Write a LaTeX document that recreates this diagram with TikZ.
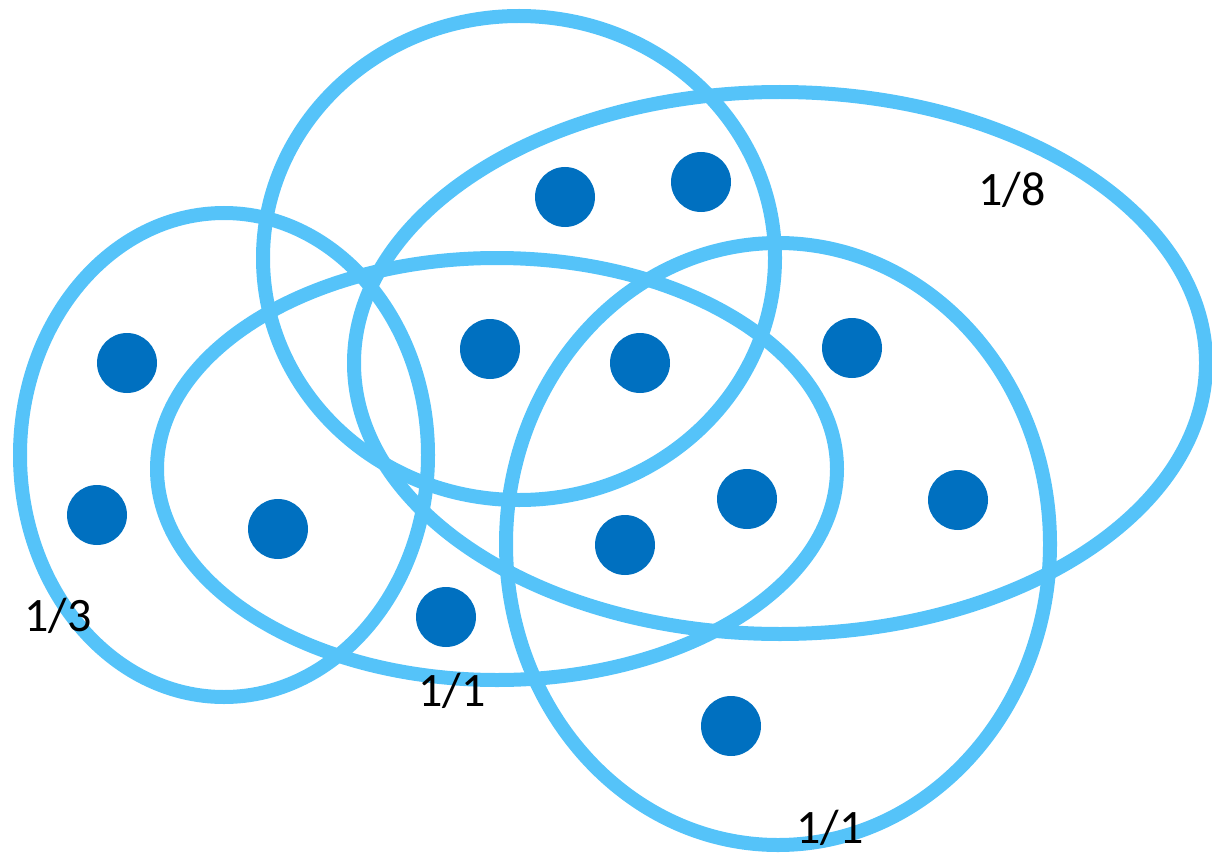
\documentclass[tikz,border=0pt]{standalone}
\usepackage{fontspec}
\setmainfont{Carlito}
\definecolor{ringblue}{HTML}{55C3F9}
\definecolor{dotblue}{HTML}{0070C0}
\begin{document}
\begin{tikzpicture}[x=1pt,y=-1pt,
  ring/.style={draw=ringblue,line width=14pt},
  dot/.style={circle,fill=dotblue,minimum size=60pt,inner sep=0pt},
  lbl/.style={anchor=base,font=\fontsize{48}{54}\selectfont,inner sep=0pt}]
\useasboundingbox (0,0) rectangle (1212,853);
% hyperedges
\draw[ring] (224,455) ellipse [x radius=204, y radius=242];
\draw[ring] (519,258) ellipse [x radius=256, y radius=242];
\draw[ring] (780,363) ellipse [x radius=426, y radius=271];
\draw[ring] (497,469) ellipse [x radius=340, y radius=211];
\draw[ring] (778,544) ellipse [x radius=272, y radius=301];
% vertices
\node[dot] (v1) at (127,363) {};
\node[dot] (v2) at (97,515) {};
\node[dot] (v3) at (278,529) {};
\node[dot] (v4) at (446,617) {};
\node[dot] (v5) at (490,349) {};
\node[dot] (v6) at (565,197) {};
\node[dot] (v7) at (701,182) {};
\node[dot] (v8) at (640,363) {};
\node[dot] (v9) at (852,348) {};
\node[dot] (v10) at (747,499) {};
\node[dot] (v11) at (625,545) {};
\node[dot] (v12) at (958,500) {};
\node[dot] (v13) at (731,726) {};
% labels
\node[lbl] (l1) at (58,631) {1/3};
\node[lbl] (l2) at (452,706) {1/1};
\node[lbl] (l3) at (1012,206) {1/8};
\node[lbl] (l4) at (830,843) {1/1};
\end{tikzpicture}
\end{document}
